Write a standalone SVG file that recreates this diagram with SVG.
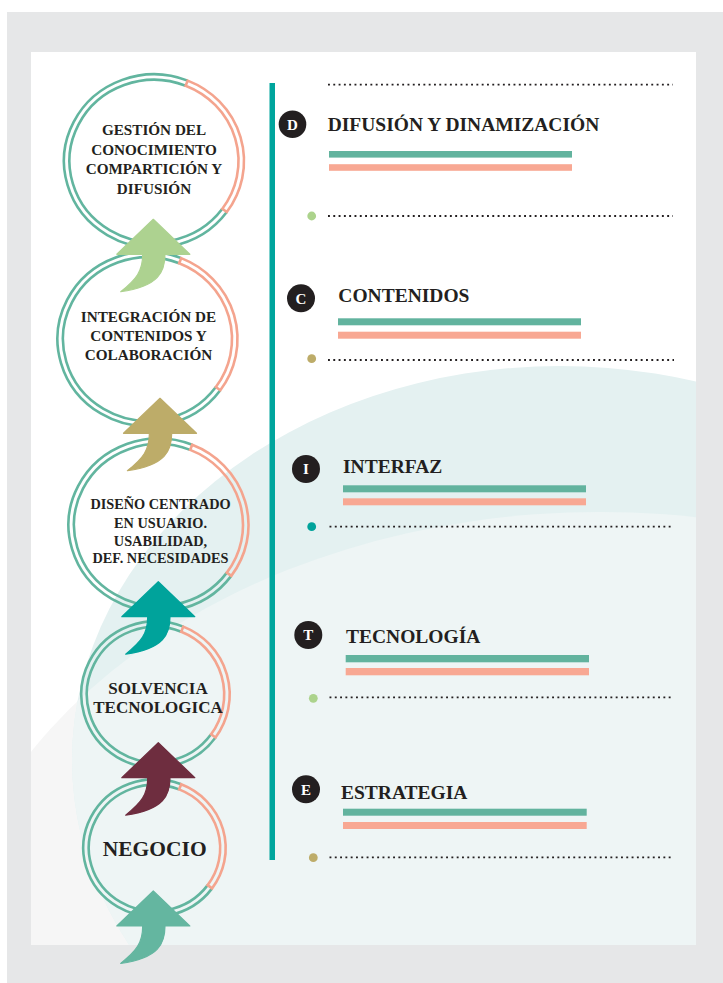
<svg xmlns="http://www.w3.org/2000/svg" width="723" height="983" viewBox="0 0 723 983">
<style>
.ring{fill:none;stroke:#62b59f;stroke-width:2.6}
.band{fill:none;stroke:#f4a48e;stroke-width:2.6;stroke-linejoin:miter}
.ct{font-family:"Liberation Serif","Times New Roman",serif;font-weight:bold;fill:#231f20;text-anchor:middle}
.tt{font-family:"Liberation Serif","Times New Roman",serif;font-weight:bold;fill:#231f20;font-size:19.5px}
.bl{font-family:"Liberation Serif","Times New Roman",serif;font-weight:bold;fill:#ffffff;font-size:15px;text-anchor:middle}
.dot{fill:none;stroke:#231f20;stroke-width:1.8;stroke-dasharray:1.9 3.4}
.bt{fill:#62b39e}
.bs{fill:#f8a893}
</style>
<defs>
<clipPath id="card"><rect x="31" y="52" width="665" height="893"/></clipPath>
<clipPath id="tealc"><ellipse cx="560" cy="760" rx="488" ry="394"/></clipPath>
<path id="arrow" d="M0,0 L36.5,35 L11.7,35 C11.7,52 6,67 -32.6,72.4 C-17,60 -10.6,52 -10.6,35 L-36.5,35 Z" stroke-linejoin="round" stroke-width="1.2"/>
</defs>
<g id="background">
<rect x="0" y="0" width="723" height="983" fill="#ffffff"/>
<rect x="7" y="12" width="716" height="971" fill="#e6e7e8"/>
<rect x="31" y="52" width="665" height="893" fill="#ffffff"/>
<g clip-path="url(#card)">
<ellipse cx="600" cy="1000" rx="661" ry="488" fill="#f6f6f6"/>
<ellipse cx="560" cy="760" rx="488" ry="394" fill="#e4f1f1"/>
<g clip-path="url(#tealc)">
<ellipse cx="600" cy="1000" rx="661" ry="488" fill="#eef5f5"/>
</g>
</g>
</g>

<g id="node-gestion">
<path class="ring" d="M226.81,211.96 A90,86.7 0 1 1 187.71,80.61"/>
<path class="ring" d="M222.36,208.73 A84.5,81.2 0 1 1 185.65,85.71"/>
<path class="band" d="M187.71,80.61 A90,86.7 0 0 1 226.81,211.96 L222.36,208.73 A84.5,81.2 0 0 0 185.65,85.71 Z"/>
<text class="ct" font-size="15.2"><tspan x="154" y="134.5">GESTIÓN DEL</tspan><tspan x="154" y="154.5">CONOCIMIENTO</tspan><tspan x="154" y="174">COMPARTICIÓN Y</tspan><tspan x="154" y="193.5">DIFUSIÓN</tspan></text>
</g>

<g id="node-integracion">
<path class="ring" d="M220.31,390.26 A90,87.2 0 1 1 181.21,258.15"/>
<path class="ring" d="M215.86,387.02 A84.5,81.7 0 1 1 179.15,263.25"/>
<path class="band" d="M181.21,258.15 A90,87.2 0 0 1 220.31,390.26 L215.86,387.02 A84.5,81.7 0 0 0 179.15,263.25 Z"/>
<text class="ct" font-size="15.2"><tspan x="148.5" y="321.7">INTEGRACIÓN DE</tspan><tspan x="148.5" y="340.7">CONTENIDOS Y</tspan><tspan x="148.5" y="360">COLABORACIÓN</tspan></text>
</g>

<g id="node-diseno">
<path class="ring" d="M231.31,575.85 A90,86.5 0 1 1 192.21,444.8"/>
<path class="ring" d="M226.86,572.61 A84.5,81 0 1 1 190.15,449.9"/>
<path class="band" d="M192.21,444.8 A90,86.5 0 0 1 231.31,575.85 L226.86,572.61 A84.5,81 0 0 0 190.15,449.9 Z"/>
<text class="ct" font-size="14.3"><tspan x="160.5" y="509.3">DISEÑO CENTRADO</tspan><tspan x="160.5" y="528">EN USUARIO.</tspan><tspan x="160.5" y="545.7">USABILIDAD,</tspan><tspan x="160.5" y="562.7">DEF. NECESIDADES</tspan></text>
</g>

<g id="node-solvencia">
<path class="ring" d="M215.53,737.53 A74.2,73.2 0 1 1 183.3,626.63"/>
<path class="ring" d="M211.08,734.29 A68.7,67.7 0 1 1 181.24,631.73"/>
<path class="band" d="M183.3,626.63 A74.2,73.2 0 0 1 215.53,737.53 L211.08,734.29 A68.7,67.7 0 0 0 181.24,631.73 Z"/>
<text class="ct" font-size="17"><tspan x="158" y="694">SOLVENCIA</tspan><tspan x="158" y="713.3">TECNOLOGICA</tspan></text>
</g>

<g id="node-negocio">
<path class="ring" d="M212.1,888.38 A71.2,68.7 0 1 1 181.17,784.3"/>
<path class="ring" d="M207.65,885.15 A65.7,63.2 0 1 1 179.11,789.4"/>
<path class="band" d="M181.17,784.3 A71.2,68.7 0 0 1 212.1,888.38 L207.65,885.15 A65.7,63.2 0 0 0 179.11,789.4 Z"/>
<text class="ct" font-size="21.5" x="154.7" y="856">NEGOCIO</text>
</g>

<g id="connectors">
<use href="#arrow" transform="translate(153.3,219.3)" fill="#add290" stroke="#add290"/>
<use href="#arrow" transform="translate(160,398.3)" fill="#bdac69" stroke="#bdac69"/>
<use href="#arrow" transform="translate(158.3,581.7)" fill="#00a39b" stroke="#00a39b"/>
<use href="#arrow" transform="translate(158.3,742.7)" fill="#6e2d3f" stroke="#6e2d3f"/>
<use href="#arrow" transform="translate(153.3,891)" fill="#64b6a0" stroke="#64b6a0"/>
</g>

<g id="timeline">
<rect x="269.5" y="83" width="5.5" height="777" fill="#00a59d"/>
</g>

<g id="item-d">
<line class="dot" x1="328" y1="84.7" x2="673" y2="84.7"/>
<circle cx="292.5" cy="124.3" r="13.8" fill="#231f20"/>
<text class="bl" x="292.5" y="129.5">D</text>
<text class="tt" x="327.7" y="131">DIFUSIÓN Y DINAMIZACIÓN</text>
<rect class="bt" x="329" y="151" width="243" height="6.6"/>
<rect class="bs" x="329" y="164.2" width="243" height="6.6"/>
<circle cx="311.7" cy="216" r="4.4" fill="#acd38c"/>
<line class="dot" x1="328" y1="216" x2="673" y2="216"/>
</g>

<g id="item-c">
<circle cx="301" cy="298.3" r="14" fill="#231f20"/>
<text class="bl" x="301" y="303.5">C</text>
<text class="tt" x="338.3" y="302.3">CONTENIDOS</text>
<rect class="bt" x="338" y="318.3" width="243" height="7"/>
<rect class="bs" x="338" y="331.7" width="243" height="7"/>
<circle cx="311.7" cy="358.7" r="4.4" fill="#bdac69"/>
<line class="dot" x1="328" y1="360" x2="674" y2="360"/>
</g>

<g id="item-i">
<circle cx="306" cy="469" r="14" fill="#231f20"/>
<text class="bl" x="306" y="474.2">I</text>
<text class="tt" x="343" y="473.3">INTERFAZ</text>
<rect class="bt" x="343" y="485.3" width="243" height="7"/>
<rect class="bs" x="343" y="498.3" width="243" height="7"/>
<circle cx="311.7" cy="526.7" r="4.4" fill="#00a39b"/>
<line class="dot" x1="329.5" y1="526.7" x2="674" y2="526.7"/>
</g>

<g id="item-t">
<circle cx="308.3" cy="635" r="14" fill="#231f20"/>
<text class="bl" x="308.3" y="640.2">T</text>
<text class="tt" x="346" y="643.3">TECNOLOGÍA</text>
<rect class="bt" x="345.7" y="655" width="243.3" height="7.3"/>
<rect class="bs" x="345.7" y="668" width="243.3" height="7.3"/>
<circle cx="313.3" cy="698.3" r="4.4" fill="#acd38c"/>
<line class="dot" x1="329.5" y1="697.3" x2="674" y2="697.3"/>
</g>

<g id="item-e">
<circle cx="306" cy="789.3" r="14" fill="#231f20"/>
<text class="bl" x="306" y="794.5">E</text>
<text class="tt" x="341" y="799">ESTRATEGIA</text>
<rect class="bt" x="343" y="808.7" width="243.7" height="7"/>
<rect class="bs" x="343" y="822" width="243.7" height="7"/>
<circle cx="313.3" cy="857.7" r="4.4" fill="#bdac69"/>
<line class="dot" x1="329.5" y1="857.3" x2="674" y2="857.3"/>
</g>
</svg>
